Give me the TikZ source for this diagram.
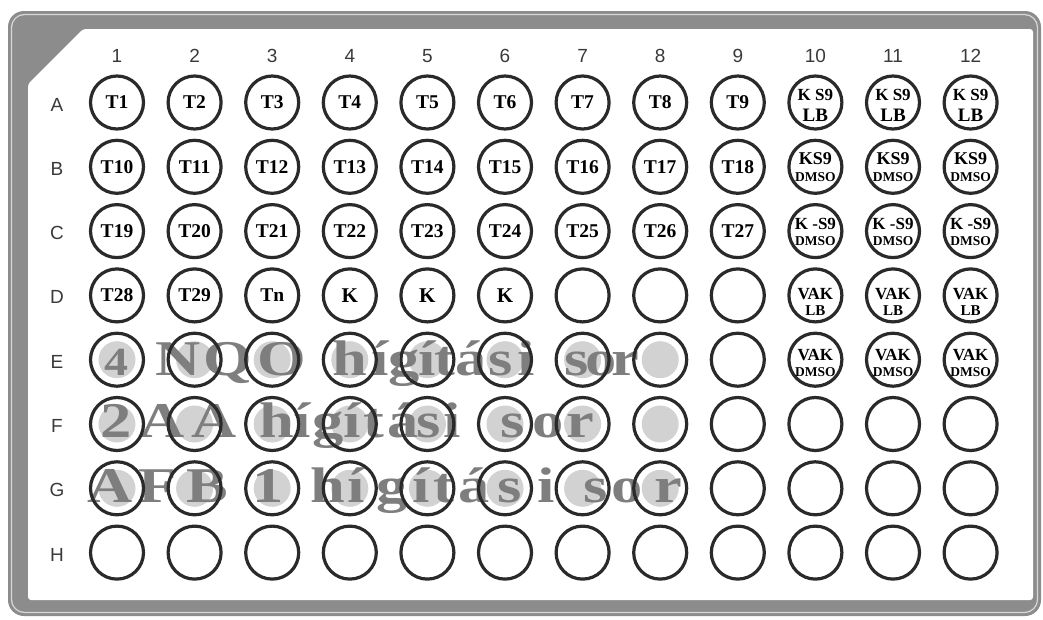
\documentclass[tikz,border=0pt]{standalone}
\usepackage{fontspec}
\usepackage{graphicx}
\setmainfont{Liberation Serif}
\newfontfamily\lsans{Liberation Sans}
\definecolor{ringc}{HTML}{2A2A2A}
\definecolor{hdrc}{HTML}{3A3A3A}
\definecolor{wmc}{HTML}{7E7E7E}
\definecolor{fillg}{HTML}{D2D2D2}
\definecolor{framec}{HTML}{8C8C8C}
\definecolor{framelight}{HTML}{D8D8D8}
\begin{document}
\begin{tikzpicture}[x=1pt,y=-1pt,
  well/.style={circle,draw=ringc,line width=3.2pt,minimum size=53pt,inner sep=0pt},
  fs/.style={font=\fontsize{#1}{#1}\selectfont\bfseries,text=black,inner sep=0pt},
  hdr/.style={font=\lsans\fontsize{19}{19}\selectfont,text=hdrc,inner sep=0pt},
  wm/.style={font=\fontsize{#1}{#1}\selectfont\bfseries,text=wmc,anchor=base,inner sep=0pt},
  wm/.default=50,
  disk/.style={circle,fill=fillg,minimum size=37pt,inner sep=0pt}
]
\useasboundingbox (0,0) rectangle (1043,619);
\fill[white] (0,0) rectangle (1043,619);
% plate frame
\fill[framec,rounded corners=16pt] (8,11) rectangle (1041,616);
\draw[framelight,line width=1.2pt,rounded corners=13pt] (11.5,14.5) rectangle (1037.5,612.5);
\fill[white,rounded corners=3pt] (83,29) -- (1033,29) -- (1033,600) -- (28,600) -- (28,84) -- cycle;

% column headers
\foreach \i in {1,...,12} {
  \pgfmathsetmacro\x{117+77.6*(\i-1)}
  \node[hdr] (c\i) at (\x,56) {\i};
}
% light grey disks (dilution rows)
\foreach \r [count=\j from 4] in {E,F,G} {
  \pgfmathsetmacro\y{102.5+64.3*\j}
  \foreach \i in {1,...,8} {
    \pgfmathsetmacro\x{117+77.6*(\i-1)}
    \node[disk] (d\r\i) at (\x,\y) {};
  }
}
% watermark texts
\node[wm=40] (eA) at (116,375) {\scalebox{1.2}[1]{4}};
\foreach \x/\c [count=\k] in {178/N,228/Q,282/O,350/h,380/í,404/g,427/í,445/t,471/á,501/s,526/i,577/s,601/o,625/r} {
  \node[wm] (e\k) at (\x,375) {\scalebox{1.25}[1]{\c}};
}
\foreach \x/\c [count=\k] in {116/2,162/A,214/A,277/h,302/í,328/g,352/í,374/t,403/á,429/s,452/i,513/s,548/o,580/r} {
  \node[wm] (f\k) at (\x,437) {\scalebox{1.25}[1]{\c}};
}
\foreach \x/\c [count=\k] in {110/A,158/F,207/B,268/1,328/h,356/í,392/g,421/í,444/t,474/á,510/s,546/i,596/s,627/o,668/r} {
  \node[wm] (g\k) at (\x,502) {\scalebox{1.25}[1]{\c}};
}
% wells and row letters
\foreach \r [count=\j from 0] in {A,B,C,D,E,F,G,H} {
  \pgfmathsetmacro\y{102.5+64.3*\j}
  \node[hdr] (row\r) at (57,\y+2) {\r};
  \foreach \i in {1,...,12} {
    \pgfmathsetmacro\x{117+77.6*(\i-1)}
    \node[well] (w\r\i) at (\x,\y) {};
  }
}
% well labels
\foreach \i in {1,...,9} {
  \pgfmathtruncatemacro\m{\i+9}
  \pgfmathtruncatemacro\n{\i+18}
  \node[fs=19.5] (lA\i) at (wA\i) {T\i};
  \node[fs=19.5] (lB\i) at (wB\i) {T\m};
  \node[fs=19.5] (lC\i) at (wC\i) {T\n};
}
\node[fs=19.5] (lD1) at (wD1) {T28};
\node[fs=19.5] (lD2) at (wD2) {T29};
\node[fs=19.5] (lD3) at (wD3) {Tn};
\node[fs=21] (lD4) at (wD4) {K};
\node[fs=21] (lD5) at (wD5) {K};
\node[fs=21] (lD6) at (wD6) {K};
\foreach \i in {10,11,12} {
  \node[fs=17,yshift=7.5pt] (kA\i) at (wA\i) {K S9};
  \node[fs=19,yshift=-12.5pt] (bA\i) at (wA\i) {LB};
  \node[fs=18,yshift=8.5pt] (kB\i) at (wB\i) {KS9};
  \node[fs=13.5,yshift=-10pt] (dB\i) at (wB\i) {DMSO};
  \node[fs=17,yshift=7.5pt] (kC\i) at (wC\i) {K -S9};
  \node[fs=13.5,yshift=-9.5pt] (dC\i) at (wC\i) {DMSO};
  \node[fs=17,yshift=1.5pt] (vD\i) at (wD\i) {VAK};
  \node[fs=15,yshift=-15pt] (bD\i) at (wD\i) {LB};
  \node[fs=17,yshift=4.5pt] (vE\i) at (wE\i) {VAK};
  \node[fs=13.5,yshift=-12pt] (dE\i) at (wE\i) {DMSO};
}
\end{tikzpicture}
\end{document}
